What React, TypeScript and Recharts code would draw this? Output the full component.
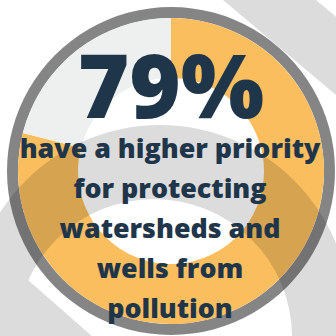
import React from 'react';
import { PieChart, Pie, Cell } from 'recharts';

// ---- data ----
const categories = ['Higher priority for protecting watersheds and wells', 'Other'];
const values = [79, 21];
const sliceColors = ['#FABE5E', '#EDF0EF'];
const headline = '79%';
const captionLines = ['have a higher priority', 'for protecting', 'watersheds and', 'wells from', 'pollution'];

const data = categories.map((name, i) => ({ name, value: values[i] }));
const ringData = [{ name: 'frame', value: 1 }];

// ---- layout ----
const W = 336;
const H = 336;
const CX = 171;
const CY = 171;
const INNER = 93;
const OUTER = 153;
const FRAME_OUT = 164;
const GRAY = '#DCDCDC';
const NAVY = '#1F364A';

const circlePath = (cx: number, cy: number, r: number) =>
  `M ${cx - r} ${cy} a ${r} ${r} 0 1 0 ${2 * r} 0 a ${r} ${r} 0 1 0 ${-2 * r} 0 Z`;

const bandPath = circlePath(160, 315, 190) + ' ' + circlePath(154, 337, 138);
const ringClip = circlePath(CX, CY, OUTER) + ' ' + circlePath(CX, CY, INNER);

export default function App() {
  return (
    <div style={{ position: 'fixed', left: 0, top: 0, width: W, height: H, background: '#fff', overflow: 'hidden' }}>
      <svg width={W} height={H} style={{ position: 'absolute', left: 0, top: 0 }}>
        <rect width={W} height={H} fill="#fff" />
        <polygon points="223,0 316,0 622,257 529,257" fill={GRAY} />
        <polygon points="-10,246 28,280 110,352 -10,352" fill={GRAY} />
        <path d={bandPath} fillRule="evenodd" fill={GRAY} />
      </svg>
      <div style={{ position: 'absolute', left: 0, top: 0 }}>
        <PieChart width={W} height={H} margin={{ top: 0, right: 0, bottom: 0, left: 0 }}>
          <Pie
            data={ringData}
            dataKey="value"
            cx={CX}
            cy={CY}
            innerRadius={OUTER}
            outerRadius={FRAME_OUT}
            startAngle={90}
            endAngle={-270}
            stroke="none"
            isAnimationActive={false}
          >
            <Cell fill="#000" fillOpacity={0.48} />
          </Pie>
          <Pie
            data={data}
            dataKey="value"
            cx={CX}
            cy={CY}
            innerRadius={INNER}
            outerRadius={OUTER}
            startAngle={90}
            endAngle={-270}
            stroke="none"
            isAnimationActive={false}
          >
            {data.map((d, i) => (
              <Cell key={d.name} fill={sliceColors[i]} />
            ))}
          </Pie>
        </PieChart>
      </div>
      <svg width={W} height={H} style={{ position: 'absolute', left: 0, top: 0, pointerEvents: 'none' }}>
        <defs>
          <clipPath id="ringClip">
            <path d={ringClip} clipRule="evenodd" />
          </clipPath>
        </defs>
        <path d={bandPath} fillRule="evenodd" fill="#000" fillOpacity={0.14} clipPath="url(#ringClip)" />
        <text
          x={171}
          y={118}
          textAnchor="middle"
          fontFamily="'Open Sans', sans-serif"
          fontWeight={800}
          fontSize={88}
          fill={NAVY}
        >
          {headline}
        </text>
        {captionLines.map((line, i) => (
          <text
            key={line}
            x={170}
            y={158 + i * 40}
            textAnchor="middle"
            fontFamily="'Open Sans', sans-serif"
            fontWeight={800}
            fontSize={26.8}
            fill={NAVY}
          >
            {line}
          </text>
        ))}
      </svg>
    </div>
  );
}
